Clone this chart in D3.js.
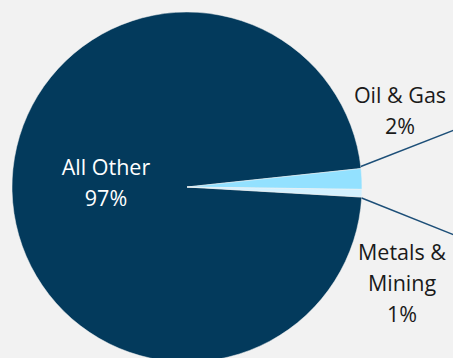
<!DOCTYPE html>
<html>
<head>
<meta charset="utf-8">
<script src="https://cdn.jsdelivr.net/npm/d3@7"></script>
<style>
  html, body { margin: 0; padding: 0; background: #f2f2f2; overflow: hidden; }
  svg { display: block; }
</style>
</head>
<body>
<svg id="chart"></svg>
<script>
// data
const categories = ['All Other', 'Oil & Gas', 'Metals & Mining'];
const shares = [97.4, 1.9, 0.7];
const labels = [['All Other', '97%'], ['Oil & Gas', '2%'], ['Metals &', 'Mining', '1%']];

const colors = ['#033a5c', '#93e1ff', '#d3f1ff'];

const width = 453, height = 358;
const cx = 187, cy = 187, radius = 175;
const lineGap = 31;

const data = categories.map((c, i) => ({ name: c, value: shares[i], label: labels[i] }));

const svg = d3.select('#chart')
    .attr('width', width)
    .attr('height', height);

svg.append('rect')
    .attr('width', width)
    .attr('height', height)
    .attr('fill', '#f2f2f2');

const g = svg.append('g')
    .attr('transform', `translate(${cx}, ${cy})`);

const start = 93.3 * Math.PI / 180;
const pie = d3.pie()
    .value(d => d.value)
    .sort(null)
    .startAngle(start)
    .endAngle(start + 2 * Math.PI);

const arcs = pie(data);
const arc = d3.arc().innerRadius(0).outerRadius(radius);

g.selectAll('path.slice')
    .data(arcs)
    .join('path')
    .attr('class', 'slice')
    .attr('d', arc)
    .attr('fill', (d, i) => colors[i])
    .attr('stroke', '#f2f2f2')
    .attr('stroke-width', 0.5);

// point on the rim at an angle (d3 convention, clockwise from 12 o'clock)
const rim = a => [Math.sin(a) * radius, -Math.cos(a) * radius];

// leader lines: oil from its upper edge, metals from its lower edge
const leaders = [
    { a: arcs[1].startAngle - 0.012, slope: -0.39 },
    { a: arcs[2].endAngle + 0.005, slope: 0.40 }
];
g.selectAll('line.leader')
    .data(leaders)
    .join('line')
    .attr('class', 'leader')
    .attr('x1', d => rim(d.a)[0])
    .attr('y1', d => rim(d.a)[1])
    .attr('x2', d => rim(d.a)[0] + 140)
    .attr('y2', d => rim(d.a)[1] + 140 * d.slope)
    .attr('stroke', '#1d4f78')
    .attr('stroke-width', 1.5);

// label positions (relative to the centre)
const labelPos = [[-81, -12], [213, -84], [215, 73]];
const fills = ['#ffffff', '#1a1a1a', '#1a1a1a'];

const texts = g.selectAll('text.lbl')
    .data(arcs)
    .join('text')
    .attr('class', 'lbl')
    .attr('text-anchor', 'middle')
    .attr('font-family', '"Open Sans", sans-serif')
    .attr('font-size', '21.5px')
    .attr('fill', (d, i) => fills[i])
    .attr('transform', (d, i) => `translate(${labelPos[i][0]}, ${labelPos[i][1]})`);

texts.selectAll('tspan')
    .data(d => d.data.label)
    .join('tspan')
    .attr('x', 0)
    .attr('y', (d, i) => i * lineGap)
    .text(d => d);
</script>
</body>
</html>
